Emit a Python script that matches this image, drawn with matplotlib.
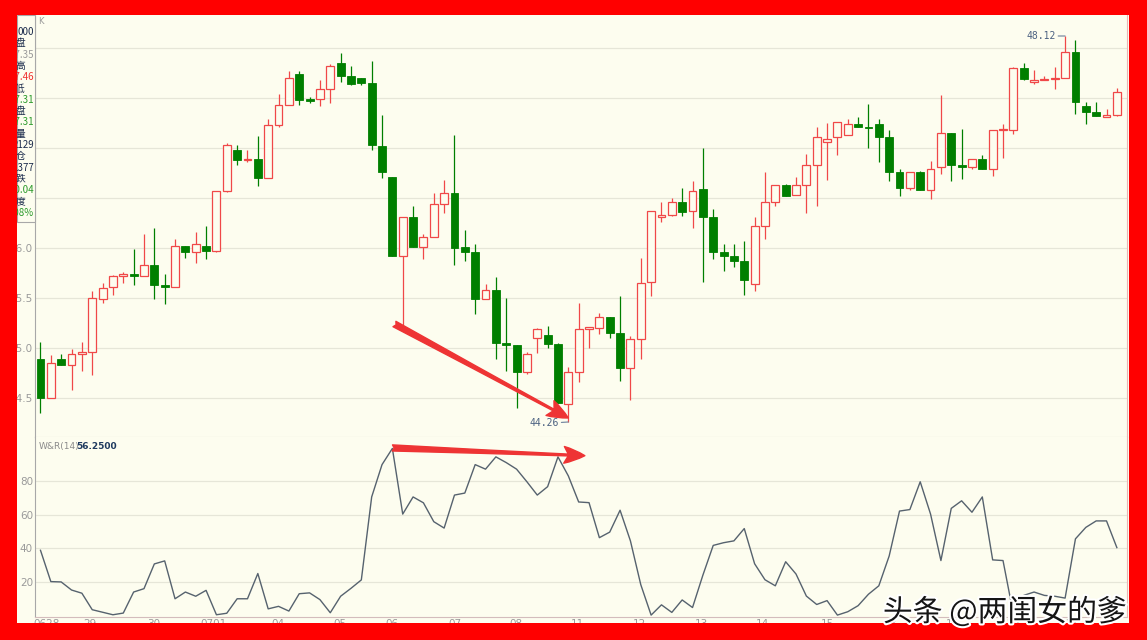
import matplotlib
matplotlib.use('Agg')
import numpy as np
import matplotlib.pyplot as plt
from matplotlib.patches import Rectangle
import matplotlib.patheffects as pe

# K-line data (one bar per period)
opens = [44.89, 44.50, 44.89, 44.83, 44.94, 44.96, 45.49, 45.61, 45.72, 45.74,
         45.72, 45.83, 45.63, 45.61, 46.02, 45.96, 46.02, 45.97, 46.57, 46.98,
         46.88, 46.89, 46.70, 47.23, 47.43, 47.74, 47.49, 47.49, 47.59, 47.85,
         47.72, 47.70, 47.65, 47.02, 46.71, 45.92, 46.31, 46.01, 46.11, 46.44,
         46.55, 46.01, 45.96, 45.49, 45.58, 45.05, 45.03, 44.76, 45.10, 45.13,
         45.04, 44.44, 44.76, 45.19, 45.20, 45.31, 45.15, 44.80, 45.09, 45.66,
         46.31, 46.33, 46.46, 46.37, 46.59, 46.31, 45.96, 45.92, 45.87, 45.64,
         46.22, 46.46, 46.63, 46.53, 46.63, 46.83, 47.06, 47.11, 47.13, 47.24,
         47.21, 47.24, 47.11, 46.76, 46.60, 46.76, 46.58, 46.81, 47.15, 46.83,
         46.81, 46.89, 46.79, 47.18, 47.18, 47.80, 47.66, 47.68, 47.69, 47.70,
         47.96, 47.42, 47.36, 47.31, 47.33]
highs = [45.06, 44.93, 44.94, 44.99, 45.06, 45.57, 45.65, 45.73, 45.76, 45.99,
         46.14, 46.20, 45.74, 46.09, 46.02, 46.16, 46.22, 46.57, 47.05, 47.03,
         46.98, 47.12, 47.29, 47.54, 47.77, 47.77, 47.51, 47.68, 47.84, 47.95,
         47.82, 47.70, 47.87, 47.33, 46.71, 46.31, 46.42, 46.14, 46.55, 46.68,
         47.13, 46.18, 46.04, 45.64, 45.71, 45.50, 45.03, 44.96, 45.20, 45.22,
         45.05, 44.81, 45.45, 45.21, 45.35, 45.31, 45.52, 45.12, 45.90, 46.37,
         46.46, 46.50, 46.60, 46.67, 47.00, 46.39, 46.04, 46.04, 46.07, 46.31,
         46.76, 46.63, 46.64, 46.71, 46.94, 47.21, 47.25, 47.26, 47.29, 47.31,
         47.44, 47.29, 47.18, 46.79, 46.76, 46.77, 46.87, 47.53, 47.15, 47.19,
         46.89, 46.93, 47.18, 47.24, 47.81, 47.85, 47.78, 47.72, 47.81, 48.12,
         48.08, 47.46, 47.46, 47.39, 47.60]
lows = [44.35, 44.50, 44.83, 44.58, 44.77, 44.73, 45.45, 45.53, 45.65, 45.63,
        45.72, 45.49, 45.44, 45.61, 45.90, 45.85, 45.89, 45.96, 46.56, 46.83,
        46.86, 46.62, 46.70, 47.21, 47.43, 47.43, 47.45, 47.42, 47.45, 47.66,
        47.63, 47.63, 46.98, 46.70, 45.92, 45.23, 46.01, 45.89, 46.11, 46.35,
        45.83, 45.87, 45.34, 45.49, 44.89, 44.77, 44.40, 44.74, 44.95, 45.00,
        44.45, 44.26, 44.66, 45.00, 45.14, 45.10, 44.67, 44.48, 44.89, 45.52,
        46.26, 46.32, 46.32, 46.20, 45.66, 45.89, 45.77, 45.81, 45.53, 45.57,
        46.09, 46.42, 46.52, 46.53, 46.35, 46.42, 46.68, 46.93, 47.13, 47.21,
        47.00, 46.86, 46.67, 46.52, 46.58, 46.58, 46.49, 46.74, 46.67, 46.69,
        46.79, 46.79, 46.72, 46.90, 47.14, 47.68, 47.64, 47.68, 47.59, 47.70,
        47.34, 47.24, 47.32, 47.31, 47.32]
closes = [44.50, 44.85, 44.83, 44.94, 44.96, 45.50, 45.60, 45.72, 45.74, 45.72,
          45.83, 45.63, 45.61, 46.02, 45.96, 46.04, 45.97, 46.57, 47.03, 46.88,
          46.89, 46.70, 47.23, 47.43, 47.70, 47.48, 47.47, 47.59, 47.82, 47.72,
          47.64, 47.65, 47.03, 46.76, 45.92, 46.31, 46.01, 46.11, 46.44, 46.55,
          46.00, 45.96, 45.49, 45.58, 45.05, 45.03, 44.76, 44.94, 45.19, 45.04,
          44.45, 44.76, 45.19, 45.21, 45.31, 45.15, 44.80, 45.09, 45.65, 46.37,
          46.33, 46.46, 46.36, 46.57, 46.31, 45.96, 45.92, 45.87, 45.68, 46.22,
          46.46, 46.63, 46.52, 46.63, 46.83, 47.11, 47.09, 47.26, 47.24, 47.21,
          47.20, 47.11, 46.76, 46.60, 46.76, 46.58, 46.79, 47.15, 46.83, 46.81,
          46.89, 46.79, 47.18, 47.19, 47.80, 47.69, 47.68, 47.69, 47.70, 47.96,
          47.46, 47.36, 47.32, 47.33, 47.56]
wr14 = [38.8, 20.2, 20.0, 15.2, 13.3, 3.5, 2.0, 0.5, 1.5, 14.0,
        16.0, 30.7, 32.5, 10.0, 14.0, 11.5, 15.0, 0.5, 1.4, 10.0,
        10.0, 25.0, 4.0, 5.5, 2.7, 13.0, 13.5, 9.5, 1.7, 11.5,
        16.2, 21.2, 70.5, 89.7, 99.3, 60.3, 70.5, 67.0, 55.8, 52.0,
        71.6, 72.8, 89.7, 87.0, 94.3, 90.9, 87.0, 79.5, 71.6, 76.6,
        94.3, 83.0, 67.5, 67.1, 46.3, 49.6, 62.6, 44.4, 18.4, 0.3,
        6.4, 1.9, 9.3, 4.8, 24.0, 41.7, 43.3, 44.4, 51.7, 30.8,
        21.3, 17.7, 32.0, 24.7, 11.6, 6.6, 8.9, 0.3, 2.3, 5.9,
        12.7, 17.7, 35.4, 62.1, 63.0, 79.5, 60.3, 32.7, 63.7, 68.2,
        61.4, 70.5, 33.1, 32.7, 1.0, 12.0, 14.0, 12.0, 11.5, 10.4,
        45.6, 52.4, 56.25, 56.25, 40.4]
wr_shown = 56.25

date_labels = ['0628', '29', '30', '0701', '04', '05', '06', '07', '08',
               '11', '12', '13', '14', '15', '18', '19', '20', '21']
date_pos = [0.6, 4.8, 10.9, 16.7, 22.9, 28.9, 34.0, 40.0, 45.9,
            51.9, 57.9, 63.9, 69.8, 76.0, 82.1, 88.1, 93.9, 99.7]
price_ticks = [44.5, 45.0, 45.5, 46.0, 46.5, 47.0, 47.5, 48.0]
wr_ticks = [20, 40, 60, 80]

# side info panel (cut off by the frame in the screenshot)
info_rows = [('000', '#1c2c4c'), ('盘', '#1c2c4c'), ('47.35', '#999999'),
             ('高', '#1c2c4c'), ('47.46', '#f03030'), ('低', '#1c2c4c'),
             ('47.31', '#2a9a2a'), ('盘', '#1c2c4c'), ('47.31', '#2a9a2a'),
             ('量', '#1c2c4c'), ('2129', '#1c2c4c'), ('仓', '#1c2c4c'),
             ('1377', '#1c2c4c'), ('跌', '#1c2c4c'), ('-0.04', '#2a9a2a'),
             ('度', '#1c2c4c'), ('0.08%', '#2a9a2a')]

BG = '#fdfdef'
UP = '#f04848'
DOWN = '#007f00'
GRID = '#e6e6d8'
W, H = 1147, 640
CJK = ['Noto Sans CJK SC', 'DejaVu Sans']

fig = plt.figure(figsize=(W / 100, H / 100), dpi=100)
fig.patch.set_facecolor(BG)
ax = fig.add_axes([35 / W, 1 - 437 / H, 1092 / W, 422 / H])
ax2 = fig.add_axes([35 / W, 1 - 617 / H, 1092 / W, 180 / H], sharex=ax)
for a in (ax, ax2):
    a.set_facecolor(BG)
    a.set_axisbelow(True)
    a.grid(axis='y', color=GRID, lw=0.9)
    a.spines['top'].set_visible(False)
    a.spines['left'].set_color('#a8a8a8')
    a.spines['right'].set_color('#eab4b4')
    a.tick_params(length=0, labelsize=7.5, labelcolor='#9a9a9a', pad=1.5)

o = np.array(opens)
h = np.array(highs)
l = np.array(lows)
c = np.array(closes)
x = np.arange(len(o))
up = c > o
blo = np.minimum(o, c)
bhi = np.maximum(o, c)
bh = np.maximum(bhi - blo, 0.012)

ax.vlines(x[up], l[up], blo[up], color=UP, lw=0.9)
ax.vlines(x[up], bhi[up], h[up], color=UP, lw=0.9)
ax.vlines(x[~up], l[~up], h[~up], color=DOWN, lw=0.9)
ax.bar(x[up], bh[up], bottom=blo[up], width=0.76, facecolor=BG,
       edgecolor=UP, linewidth=0.9)
ax.bar(x[~up], bh[~up], bottom=blo[~up], width=0.76, color=DOWN,
       edgecolor=DOWN, linewidth=0.6)

ax.set_xlim(-0.53, 104.98)
ax.set_ylim(44.11, 48.33)
ax.set_yticks(price_ticks, [f'{t:.1f}' for t in price_ticks])
ax.tick_params(axis='x', labelbottom=False)
ax.spines['bottom'].set_color('#c8c8c8')

# high / low markers
i_lo = int(np.argmin(l))
i_hi = int(np.argmax(h))
mono = dict(family='DejaVu Sans Mono', fontsize=7, color='#4a6080')
ax.annotate(f'{l[i_lo]:.2f}', xy=(i_lo, l[i_lo]), xytext=(-7, -1),
            textcoords='offset points', ha='right', va='center',
            arrowprops=dict(arrowstyle='-', color='#6a7f9a', lw=0.8,
                            shrinkA=0, shrinkB=0), **mono)
ax.annotate(f'{h[i_hi]:.2f}', xy=(i_hi, h[i_hi]), xytext=(-7, 0),
            textcoords='offset points', ha='right', va='center',
            arrowprops=dict(arrowstyle='-', color='#6a7f9a', lw=0.8,
                            shrinkA=0, shrinkB=0), **mono)

# divergence arrows
arrow = dict(arrowstyle='fancy,head_length=0.75,head_width=0.6,tail_width=0.22',
             color='#ee3434', shrinkA=0, shrinkB=0, mutation_scale=20)
ax.annotate('', xy=(51, 44.30), xytext=(34.2, 45.24), arrowprops=arrow)

ax2.plot(x, wr14, color='#56626e', lw=1.0)
ax2.set_ylim(-0.83, 106.1)
ax2.set_yticks(wr_ticks, [str(t) for t in wr_ticks])
ax2.set_xticks(date_pos, date_labels)
ax2.spines['bottom'].set_color('#d4bcbc')
ax2.annotate('', xy=(52.6, 95.0), xytext=(34.0, 99.6), arrowprops=arrow)
ax2.text(0.003, 0.97, 'W&R(14)', transform=ax2.transAxes, fontsize=6.5,
         color='#8a8a8a', va='top')
ax2.text(0.038, 0.97, f'{wr_shown:.4f}', transform=ax2.transAxes,
         fontsize=6.5, color='#1f3a5f', fontweight='bold', va='top')
ax.text(0.003, 0.995, 'K', transform=ax.transAxes, fontsize=6,
        color='#9a9a9a', va='top')

# info panel at the left edge
fig.add_artist(Rectangle((17 / W, 1 - 222 / H), 18 / W, 207 / H,
                         transform=fig.transFigure, facecolor=BG,
                         edgecolor='#a8a8a8', lw=0.8, zorder=5))
for k, (txt, col) in enumerate(info_rows):
    yy = 1 - (32 + k * 11.3) / H
    is_num = not any('\u4e00' <= ch <= '\u9fff' for ch in txt)
    xx = 34 / W if is_num else 25 / W
    fig.text(xx, yy, txt, ha='right', va='center', fontsize=7, color=col,
             family=CJK, zorder=6)

# red frame
red = '#ff0000'
for rect in [(0, 1 - 15 / H, 1, 15 / H), (0, 0, 17 / W, 1),
             (1129 / W, 0, 18 / W, 1), (0, 0, 1, 17 / H)]:
    fig.add_artist(Rectangle(rect[:2], rect[2], rect[3],
                             transform=fig.transFigure, facecolor=red,
                             edgecolor='none', zorder=10))

# watermark
fig.text(1127 / W, 1 - 621 / H, '头条 @两闺女的爹', ha='right', va='baseline',
         fontsize=21.5, color='#151515', family=CJK, zorder=11,
         path_effects=[pe.withStroke(linewidth=3, foreground='white')])

fig.savefig('out.png', dpi=100, facecolor=BG)
